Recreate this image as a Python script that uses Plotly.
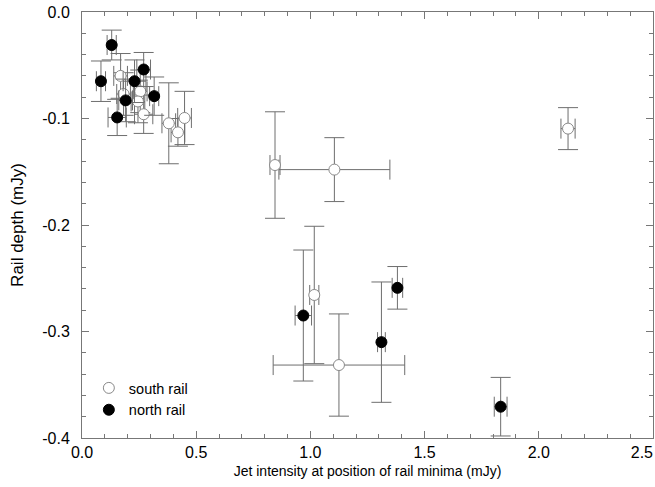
import plotly.graph_objects as go

# South rail (open circles)
south_x = [0.169, 0.182, 0.255, 0.245, 0.27, 0.38, 0.449, 0.42, 0.845, 1.105, 1.017, 1.125, 2.128]
south_y = [-0.060, -0.077, -0.0745, -0.084, -0.096, -0.1045, -0.0995, -0.113, -0.1437, -0.148, -0.2657, -0.3315, -0.1095]
south_xerr = [0.03, 0.03, 0.03, 0.03, 0.04, 0.03, 0.03, 0.03, 0.022, 0.243, 0.02, 0.288, 0.031]
south_yerr = [0.021, 0.02, 0.02, 0.02, 0.018, 0.038, 0.025, 0.013, 0.05, 0.030, 0.0645, 0.048, 0.0197]

# North rail (filled circles)
north_x = [0.13, 0.083, 0.27, 0.23, 0.316, 0.191, 0.154, 0.969, 1.311, 1.381, 1.833]
north_y = [-0.031, -0.065, -0.054, -0.065, -0.079, -0.083, -0.099, -0.285, -0.310, -0.259, -0.3706]
north_xerr = [0.02, 0.02, 0.03, 0.05, 0.02, 0.03, 0.04, 0.036, 0.017, 0.023, 0.028]
north_yerr = [0.014, 0.019, 0.016, 0.02, 0.018, 0.02, 0.017, 0.0615, 0.0565, 0.020, 0.0275]

x_ticks = [0.0, 0.5, 1.0, 1.5, 2.0, 2.5]
x_ticklabels = ["0.0", "0.5", "1.0", "1.5", "2.0", "2.5" + "\u00a0" * 5]
y_ticks = [0.0, -0.1, -0.2, -0.3, -0.4]
y_ticklabels = ["0.0", "-0.1", "-0.2", "-0.3", "-0.4"]

err_color = "#6e6e6e"
font_family = "Liberation Sans, Arial, sans-serif"

fig = go.Figure()
fig.add_trace(go.Scatter(
    x=south_x, y=south_y, mode="markers", name="south rail",
    marker=dict(size=11, color="white", line=dict(color="#8a8a8a", width=1)),
    error_x=dict(type="data", array=south_xerr, color=err_color, thickness=1, width=10),
    error_y=dict(type="data", array=south_yerr, color=err_color, thickness=1, width=10),
))
fig.add_trace(go.Scatter(
    x=north_x, y=north_y, mode="markers", name="north rail",
    marker=dict(size=11, color="black", line=dict(color="black", width=1)),
    error_x=dict(type="data", array=north_xerr, color=err_color, thickness=1, width=10),
    error_y=dict(type="data", array=north_yerr, color=err_color, thickness=1, width=10),
))

axis_common = dict(
    showgrid=False, zeroline=False, showline=True, linecolor="#777", linewidth=1,
    mirror="ticks", ticks="inside", ticklen=7, tickcolor="#777",
    tickfont=dict(size=16, color="black", family=font_family),
    ticklabeloverflow="allow",
)
fig.update_xaxes(
    range=[0, 2.5], tickvals=x_ticks, ticktext=x_ticklabels,
    minor=dict(ticks="inside", dtick=0.1, ticklen=4, tickcolor="#777"),
    title=dict(text="Jet intensity at position of rail minima (mJy)",
               font=dict(size=14, color="black", family=font_family), standoff=5),
    ticklabelstandoff=0,
    **axis_common,
)
fig.update_yaxes(
    range=[-0.4, 0], tickvals=y_ticks, ticktext=y_ticklabels,
    minor=dict(ticks="inside", dtick=0.02, ticklen=4, tickcolor="#777"),
    title=dict(text="Rail depth (mJy)",
               font=dict(size=17, color="black", family=font_family), standoff=14),
    ticklabelstandoff=8,
    **axis_common,
)
fig.update_layout(
    width=655, height=487,
    margin=dict(l=82, r=2, t=12, b=49, autoexpand=False),
    plot_bgcolor="white", paper_bgcolor="white",
    showlegend=True,
    legend=dict(x=0.012, y=0.155, xanchor="left", yanchor="top",
                bgcolor="rgba(0,0,0,0)", font=dict(size=14.5, color="black", family=font_family),
                tracegroupgap=0),
)
fig.write_html("out.html", config={"displayModeBar": False},
               post_script="document.body.style.margin='0';document.body.style.padding='0';")
